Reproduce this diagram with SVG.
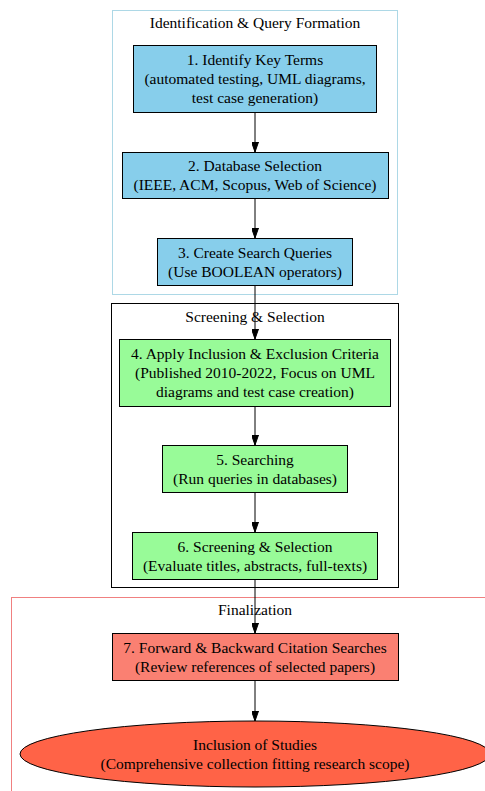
<svg xmlns="http://www.w3.org/2000/svg" width="485" height="791" viewBox="0 0 485 791">
<style>
text{font-family:"Liberation Serif","Times New Roman",serif;font-size:15.5px;fill:#000;text-anchor:middle}
.n{stroke:#000;stroke-width:1}
.e{stroke:#000;stroke-width:1;fill:none}
</style>
<defs>
<marker id="ah" markerWidth="10" markerHeight="7" refX="10" refY="3.5" orient="auto" markerUnits="userSpaceOnUse">
<path d="M0,0 L10,3.5 L0,7 Z" fill="#000" stroke="#000" stroke-width="1"/>
</marker>
</defs>
<rect width="485" height="791" fill="#fff"/>
<g id="cluster1">
<rect x="112.5" y="10.5" width="285" height="284" fill="none" stroke="#add8e6"/>
<text x="255" y="28">Identification &amp; Query Formation</text>
</g>
<g id="cluster2">
<rect x="111.5" y="303.5" width="287" height="284" fill="none" stroke="#000"/>
<text x="255" y="322">Screening &amp; Selection</text>
</g>
<g id="cluster3">
<rect x="11.5" y="597.5" width="480" height="200" fill="none" stroke="#f08080"/>
<text x="255" y="615">Finalization</text>
</g>
<g id="edges">
<line class="e" x1="255" y1="112" x2="255" y2="152" marker-end="url(#ah)"/>
<line class="e" x1="255" y1="198" x2="255" y2="238" marker-end="url(#ah)"/>
<line class="e" x1="255" y1="285" x2="255" y2="339" marker-end="url(#ah)"/>
<line class="e" x1="255" y1="406" x2="255" y2="445" marker-end="url(#ah)"/>
<line class="e" x1="255" y1="492" x2="255" y2="532" marker-end="url(#ah)"/>
<line class="e" x1="255" y1="579" x2="255" y2="633" marker-end="url(#ah)"/>
<line class="e" x1="255" y1="680" x2="255" y2="721" marker-end="url(#ah)"/>
</g>
<g id="n1">
<rect class="n" x="133.5" y="45.5" width="243" height="67" fill="#87ceeb"/>
<text x="255" y="65">1. Identify Key Terms</text>
<text x="255" y="84">(automated testing, UML diagrams,</text>
<text x="255" y="103">test case generation)</text>
</g>
<g id="n2">
<rect class="n" x="122.5" y="152.5" width="266" height="46" fill="#87ceeb"/>
<text x="255" y="171">2. Database Selection</text>
<text x="255" y="190">(IEEE, ACM, Scopus, Web of Science)</text>
</g>
<g id="n3">
<rect class="n" x="157.5" y="238.5" width="195" height="47" fill="#87ceeb"/>
<text x="255" y="258">3. Create Search Queries</text>
<text x="255" y="277">(Use BOOLEAN operators)</text>
</g>
<g id="n4">
<rect class="n" x="119.5" y="339.5" width="271" height="67" fill="#98fb98"/>
<text x="255" y="359">4. Apply Inclusion &amp; Exclusion Criteria</text>
<text x="255" y="378">(Published 2010-2022, Focus on UML</text>
<text x="255" y="397">diagrams and test case creation)</text>
</g>
<g id="n5">
<rect class="n" x="162.5" y="445.5" width="185" height="47" fill="#98fb98"/>
<text x="255" y="465">5. Searching</text>
<text x="255" y="484">(Run queries in databases)</text>
</g>
<g id="n6">
<rect class="n" x="132.5" y="532.5" width="245" height="47" fill="#98fb98"/>
<text x="255" y="552">6. Screening &amp; Selection</text>
<text x="255" y="571">(Evaluate titles, abstracts, full-texts)</text>
</g>
<g id="n7">
<rect class="n" x="112.5" y="633.5" width="286" height="47" fill="#fa8072"/>
<text x="255" y="653">7. Forward &amp; Backward Citation Searches</text>
<text x="255" y="672">(Review references of selected papers)</text>
</g>
<g id="n8">
<ellipse class="n" cx="255" cy="754" rx="235" ry="33" fill="#ff6347"/>
<text x="255" y="750">Inclusion of Studies</text>
<text x="255" y="769">(Comprehensive collection fitting research scope)</text>
</g>
</svg>
